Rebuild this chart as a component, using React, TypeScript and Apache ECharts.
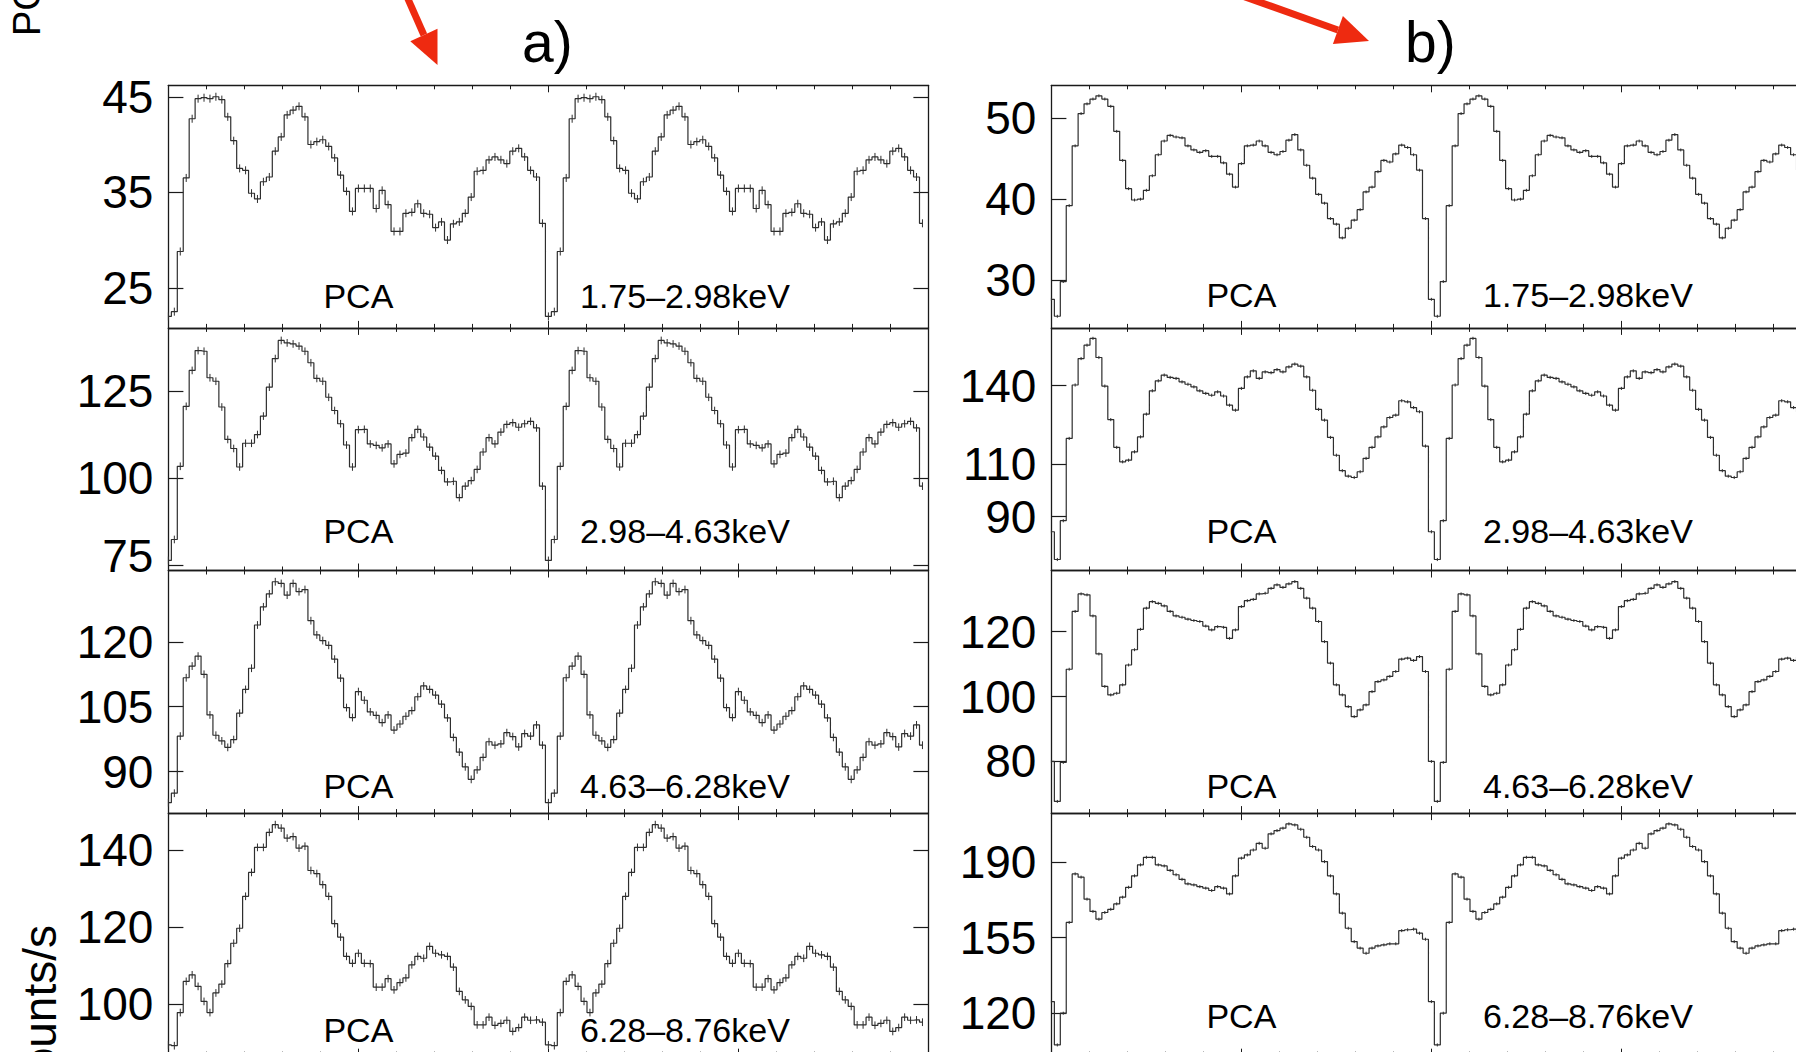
import React, { useEffect, useRef } from "react";
import * as echarts from "echarts";

// ---------------- data (pulse profiles, 64 phase bins per cycle, shown twice) ----------------
const BINS_PER_CYCLE = 64;
const CYCLES = 2;

// Panel a) rows (counts/s)
const A1 = [22.0, 22.5, 28.8, 36.5, 42.7, 44.8, 44.9, 44.8, 45.0, 44.7, 42.9, 40.4, 37.5, 37.3, 34.9, 34.3, 36.1, 36.6, 39.3, 40.8, 43.1, 43.6, 44.0, 42.9, 40.0, 40.3, 40.5, 39.8, 38.6, 36.8, 35.1, 33.0, 35.4, 35.4, 35.4, 33.3, 35.2, 33.7, 30.9, 30.9, 32.8, 32.9, 33.8, 32.8, 32.7, 31.3, 31.9, 30.0, 31.7, 31.9, 32.8, 34.5, 37.2, 37.3, 38.4, 38.7, 38.4, 38.0, 39.3, 39.6, 38.7, 37.3, 36.6, 31.75];
const A2 = [76.5, 82.5, 103.5, 120.7, 131.0, 136.7, 136.5, 128.9, 127.9, 120.5, 111.2, 108.6, 103.3, 110.1, 110.1, 112.6, 117.9, 126.2, 134.4, 139.6, 138.9, 138.6, 138.0, 136.5, 133.2, 128.7, 127.9, 123.3, 119.5, 115.7, 109.6, 103.3, 114.0, 114.1, 109.9, 109.5, 108.8, 109.9, 104.2, 106.9, 107.3, 111.7, 114.1, 111.9, 109.0, 106.4, 102.3, 99.0, 99.2, 94.5, 97.8, 99.4, 102.6, 107.6, 111.7, 109.9, 113.3, 115.5, 116.0, 114.7, 115.7, 116.4, 114.5, 97.8];
const A3 = [82.8, 85.0, 98.2, 111.7, 114.4, 116.7, 112.5, 103.1, 98.4, 97.1, 95.6, 97.4, 103.5, 109.0, 113.9, 123.9, 128.1, 131.1, 133.9, 133.5, 130.8, 133.5, 131.6, 132.1, 124.9, 121.6, 120.3, 119.2, 116.0, 111.6, 104.8, 102.5, 108.5, 106.5, 103.8, 103.0, 101.3, 103.1, 99.6, 101.0, 102.8, 104.1, 107.3, 109.8, 109.0, 107.7, 105.6, 102.4, 97.9, 94.5, 91.1, 88.2, 90.4, 93.3, 96.9, 96.1, 96.4, 99.0, 98.1, 95.7, 98.8, 98.2, 100.8, 96.1];
const A4 = [89.4, 89.2, 97.8, 105.9, 107.6, 104.6, 100.7, 97.8, 102.9, 105.2, 110.5, 115.8, 119.7, 128.0, 134.2, 140.7, 140.7, 144.6, 146.6, 145.7, 143.1, 143.5, 140.5, 141.0, 134.7, 133.9, 131.0, 128.0, 120.9, 117.4, 112.4, 110.6, 113.2, 110.6, 110.5, 104.4, 104.4, 106.6, 103.7, 105.6, 106.8, 110.2, 112.4, 111.9, 115.0, 113.2, 112.8, 112.4, 109.6, 103.3, 101.1, 99.4, 94.6, 94.6, 96.6, 94.5, 95.0, 95.8, 92.9, 93.9, 96.6, 95.8, 95.9, 95.3];

// Panel b) rows (counts/s)
const B1 = [27.6, 25.5, 29.8, 39.2, 46.6, 50.6, 51.8, 52.4, 52.8, 52.4, 51.5, 48.4, 44.8, 41.3, 39.9, 40.0, 41.1, 42.9, 45.5, 47.2, 47.9, 47.7, 47.6, 46.6, 46.1, 45.8, 46.0, 45.3, 45.3, 44.5, 43.1, 41.5, 44.4, 46.6, 46.7, 47.2, 46.6, 45.8, 45.5, 45.9, 47.3, 48.0, 46.1, 44.2, 42.6, 40.6, 39.5, 37.6, 36.9, 35.2, 36.4, 37.4, 38.7, 40.9, 41.5, 43.4, 44.8, 44.6, 45.6, 46.7, 46.4, 45.5, 43.6, 37.6];
const B2 = [84.2, 73.6, 88.4, 119.8, 140.2, 150.3, 155.4, 158.0, 150.7, 139.8, 127.0, 116.4, 110.9, 111.5, 114.7, 120.4, 129.1, 138.0, 141.8, 144.0, 143.1, 142.7, 141.4, 140.5, 139.5, 138.0, 137.0, 136.3, 137.6, 136.0, 132.5, 130.6, 138.9, 143.3, 145.6, 142.7, 145.2, 144.9, 146.1, 145.2, 147.1, 148.2, 147.4, 143.3, 138.2, 130.9, 126.8, 120.2, 113.4, 107.5, 105.4, 104.9, 107.1, 112.2, 116.4, 120.4, 124.2, 127.8, 128.7, 134.2, 133.8, 131.6, 130.0, 116.9];
const B3 = [80.0, 67.7, 79.7, 108.4, 126.2, 131.6, 131.3, 124.8, 113.1, 103.1, 100.5, 101.0, 103.6, 109.7, 114.4, 120.7, 127.2, 129.2, 128.7, 127.9, 126.2, 124.8, 124.4, 123.8, 123.4, 123.1, 121.7, 120.5, 121.5, 121.3, 117.9, 120.5, 127.7, 129.5, 129.9, 131.6, 131.8, 133.3, 134.4, 133.6, 134.7, 135.4, 133.3, 130.3, 127.2, 123.1, 116.9, 110.3, 103.6, 100.5, 96.9, 93.8, 95.9, 97.4, 101.5, 104.6, 105.1, 106.2, 107.7, 111.5, 111.8, 111.1, 112.3, 107.7];
const B4 = [125.3, 105.2, 119.9, 162.0, 184.5, 183.0, 172.8, 167.1, 163.5, 166.6, 168.1, 170.6, 173.7, 178.3, 183.6, 188.7, 192.2, 192.2, 188.7, 188.2, 186.1, 184.1, 182.0, 179.9, 179.4, 178.6, 177.9, 176.8, 178.6, 177.9, 175.2, 183.6, 191.8, 193.3, 195.6, 198.7, 196.4, 203.1, 204.6, 205.7, 207.7, 207.2, 205.2, 201.5, 197.2, 195.6, 190.2, 183.6, 175.2, 166.3, 159.3, 153.1, 150.1, 147.7, 150.1, 151.1, 151.6, 152.1, 152.1, 158.2, 158.6, 158.9, 157.0, 154.2];

// error bar half-sizes per row
const ERR_A = [0.42, 1.1, 0.9, 1.0];
const ERR_B = [0.18, 0.6, 0.45, 0.7];

// axis ranges and tick labels
const Y_MIN_A = [20.8, 73.6, 80.4, 86.6];
const Y_MAX_A = [46.2, 143.2, 136.5, 149.6];
const Y_MIN_B = [24.06, 69.4, 64.1, 100.2];
const Y_MAX_B = [54.1, 162.0, 138.8, 212.7];
const TICKS_A = [[25, 35, 45], [75, 100, 125], [90, 105, 120], [100, 120, 140]];
const TICKS_B = [[30, 40, 50], [90, 110, 140], [80, 100, 120], [120, 155, 190]];
const LIFTED_A = [[], [75], [], []];
const LIFTED_B = [[], [], [], []];
const X_MIN = 0;
const X_MAX = 2;
const X_INTERVAL = 0.5;

const BANDS = ["1.75\u20132.98keV", "2.98\u20134.63keV", "4.63\u20136.28keV", "6.28\u20138.76keV"];
const INSTRUMENT = "PCA";
const PANEL_TITLES = ["a)", "b)"];

// ---------------- layout ----------------
const FONT = '"Liberation Sans", Arial, Helvetica, sans-serif';
const RED = "#ee2a10";
const INK = "#1a1a1a";
const PANEL_LEFT = [168.4, 1051.4];
const PANEL_W = 760;
const ROW_TOP = 85.3;
const ROW_H = 242.6;
const TEXT_BASE_A = [308, 543, 798, 1042];
const TEXT_BASE_B = [307, 543, 798, 1028];
const BAND_X = [580, 1483];

function stepData(vals: number[]) {
  const out: number[][] = [];
  for (let c = 0; c < CYCLES; c++) {
    vals.forEach((v, k) => out.push([(c * BINS_PER_CYCLE + k) / BINS_PER_CYCLE, v]));
  }
  return out;
}

function errData(vals: number[], e: number) {
  return stepData(vals).map((p) => [p[0], p[1], e]);
}

function buildOption() {
  const panels = [
    { rows: [A1, A2, A3, A4], err: ERR_A, ymin: Y_MIN_A, ymax: Y_MAX_A, ticks: TICKS_A, lifted: LIFTED_A, base: TEXT_BASE_A },
    { rows: [B1, B2, B3, B4], err: ERR_B, ymin: Y_MIN_B, ymax: Y_MAX_B, ticks: TICKS_B, lifted: LIFTED_B, base: TEXT_BASE_B },
  ];
  const grid: any[] = [];
  const xAxis: any[] = [];
  const yAxis: any[] = [];
  const series: any[] = [];
  const graphic: any[] = [];

  const lineStyle = { color: INK, width: 1.3 };

  panels.forEach((p, pi) => {
    p.rows.forEach((vals, ri) => {
      const g = grid.length;
      grid.push({
        left: PANEL_LEFT[pi],
        top: ROW_TOP + ri * ROW_H,
        width: PANEL_W,
        height: ROW_H,
        containLabel: false,
        outerBoundsMode: "none",
      });
      const xBase = {
        type: "value",
        gridIndex: g,
        min: X_MIN,
        max: X_MAX,
        interval: X_INTERVAL,
        axisLine: { show: true, onZero: false, lineStyle },
        axisTick: { show: true, inside: true, length: 7, lineStyle: { color: INK, width: 1 } },
        minorTick: { show: true, splitNumber: 5, length: 4, lineStyle: { color: INK, width: 1 } },
        axisLabel: { show: false },
        splitLine: { show: false },
        minorSplitLine: { show: false },
      };
      xAxis.push({ ...xBase, position: "bottom" });
      xAxis.push({ ...xBase, position: "top" });

      const ticks = p.ticks[ri];
      const lifted = p.lifted[ri];
      const yBase = {
        type: "value",
        gridIndex: g,
        min: p.ymin[ri],
        max: p.ymax[ri],
        scale: true,
        axisLine: { show: true, onZero: false, lineStyle },
        axisTick: { show: true, inside: true, length: 15, customValues: ticks, lineStyle: { color: INK, width: 1.2 } },
        splitLine: { show: false },
      };
      yAxis.push({
        ...yBase,
        position: "left",
        axisLabel: {
          show: true,
          customValues: ticks,
          fontSize: 46,
          fontFamily: FONT,
          color: "#000",
          margin: 15,
          formatter: (v: number) => (lifted.indexOf(v) >= 0 ? `{lift|${v}}` : `${v}`),
          rich: { lift: { fontSize: 46, fontFamily: FONT, color: "#000", padding: [0, 0, 20, 0] } },
        },
      });
      yAxis.push({ ...yBase, position: "right", axisLabel: { show: false } });

      series.push({
        type: "line",
        xAxisIndex: 2 * g,
        yAxisIndex: 2 * g,
        data: stepData(vals),
        step: "middle",
        showSymbol: false,
        symbol: "none",
        silent: true,
        lineStyle: { color: "#2e2e2e", width: 1.2 },
      });
      series.push({
        type: "custom",
        xAxisIndex: 2 * g,
        yAxisIndex: 2 * g,
        coordinateSystem: "cartesian2d",
        silent: true,
        data: errData(vals, p.err[ri]),
        encode: { x: 0, y: 1 },
        renderItem: (params: any, api: any) => {
          const x = api.value(0);
          const y = api.value(1);
          const e = api.value(2);
          const p1 = api.coord([x, y - e]);
          const p2 = api.coord([x, y + e]);
          return {
            type: "line",
            shape: { x1: p1[0], y1: p1[1], x2: p2[0], y2: p2[1] },
            style: { stroke: "#2e2e2e", lineWidth: 1 },
          };
        },
      });

      // annotations
      const fs = 34;
      graphic.push({
        type: "text",
        x: PANEL_LEFT[pi] + PANEL_W * 0.25,
        y: p.base[ri] - 0.35 * fs,
        silent: true,
        style: { text: INSTRUMENT, fontSize: fs, fontFamily: FONT, fill: "#000", align: "center", verticalAlign: "middle" },
      });
      graphic.push({
        type: "text",
        x: BAND_X[pi],
        y: p.base[ri] - 0.35 * fs,
        silent: true,
        style: { text: BANDS[ri], fontSize: fs, fontFamily: FONT, fill: "#000", align: "left", verticalAlign: "middle" },
      });
    });

    // panel title
    graphic.push({
      type: "text",
      x: PANEL_LEFT[pi] + PANEL_W / 2 - 1,
      y: 62 - 0.35 * 57,
      silent: true,
      style: { text: PANEL_TITLES[pi], fontSize: 57, fontFamily: FONT, fill: "#000", align: "center", verticalAlign: "middle" },
    });
  });

  // left-hand axis titles (cropped)
  graphic.push({
    type: "text",
    x: 27,
    y: 36,
    rotation: Math.PI / 2,
    silent: true,
    style: { text: "PCA Counts/s", fontSize: 38, fontFamily: FONT, fill: "#000", align: "left", verticalAlign: "middle" },
  });
  graphic.push({
    type: "text",
    x: 40,
    y: 925,
    rotation: Math.PI / 2,
    silent: true,
    style: { text: "PCA Counts/s", fontSize: 46, fontFamily: FONT, fill: "#000", align: "right", verticalAlign: "middle" },
  });

  // red arrows
  const arrows = [
    { from: [401.8, -15], base: [423.9, 35], tip: [437.5, 65], c1: [437.5, 28.8], c2: [410.3, 41.2] },
    { from: [1234, -7], base: [1337.9, 30], tip: [1369, 41], c1: [1342.9, 15.9], c2: [1332.9, 44.1] },
  ];
  arrows.forEach((a) => {
    graphic.push({
      type: "line",
      silent: true,
      shape: { x1: a.from[0], y1: a.from[1], x2: a.base[0], y2: a.base[1] },
      style: { stroke: RED, lineWidth: 7 },
    });
    graphic.push({
      type: "polygon",
      silent: true,
      shape: { points: [a.tip, a.c1, a.c2] },
      style: { fill: RED },
    });
  });

  return {
    animation: false,
    backgroundColor: "#ffffff",
    grid,
    xAxis,
    yAxis,
    series,
    graphic,
  };
}

export default function App() {
  const ref = useRef<HTMLDivElement | null>(null);
  useEffect(() => {
    document.body.style.margin = "0";
    if (!ref.current) return;
    const chart = echarts.init(ref.current, undefined, { renderer: "svg" });
    chart.setOption(buildOption() as any);
    return () => chart.dispose();
  }, []);
  return (
    <div
      ref={ref}
      style={{ position: "absolute", left: 0, top: 0, width: 1796, height: 1052, overflow: "hidden", background: "#fff" }}
    />
  );
}
